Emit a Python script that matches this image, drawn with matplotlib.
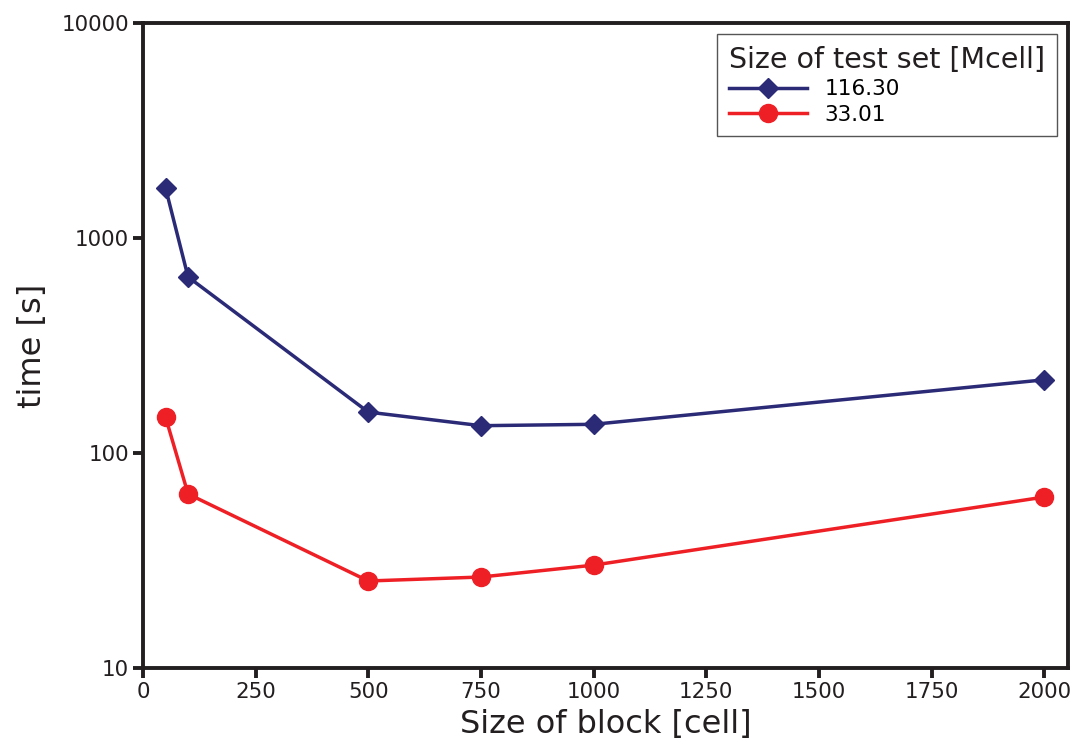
import matplotlib
matplotlib.use("Agg")
import matplotlib.pyplot as plt
from matplotlib.ticker import FixedLocator, NullLocator

# block sizes [cell]
block_size = [50, 100, 500, 750, 1000, 2000]
# run time [s] for each test set
time_116 = [1710, 659, 155, 134, 136, 219]
time_33 = [147, 64.5, 25.4, 26.5, 30.1, 62.4]

x_ticks = [0, 250, 500, 750, 1000, 1250, 1500, 1750, 2000]
y_ticks = [10, 100, 1000, 10000]

navy = "#2b2a77"
red = "#ee2026"
dark = "#231f20"

fig = plt.figure(figsize=(10.76, 7.49), dpi=100)
ax = fig.add_axes([0.1329, 0.1081, 0.8597, 0.8612])

ax.plot(block_size, time_116, color=navy, lw=2.5, marker="D", ms=10, label="116.30")
ax.plot(block_size, time_33, color=red, lw=2.5, marker="o", ms=13, label="33.01")

ax.set_yscale("log")
ax.set_xlim(0, 2053)
ax.set_ylim(10, 10000)
ax.xaxis.set_major_locator(FixedLocator(x_ticks))
ax.yaxis.set_major_locator(FixedLocator(y_ticks))
ax.yaxis.set_minor_locator(NullLocator())
ax.set_yticklabels([str(v) for v in y_ticks])

for s in ax.spines.values():
    s.set_linewidth(2.8)
    s.set_color(dark)
ax.tick_params(direction="out", length=7, width=2.8, colors=dark,
               labelsize=15.4, labelcolor=dark, pad=3)

ax.set_xlabel("Size of block [cell]", fontsize=23, color=dark, labelpad=5)
ax.set_ylabel("time [s]", fontsize=23, color=dark, labelpad=10)

leg = ax.legend(title="Size of test set [Mcell]", loc="upper right",
                fontsize=15.6, title_fontsize=20.5, fancybox=False,
                edgecolor="#555555", framealpha=1, borderaxespad=0.5,
                handlelength=3.6, labelspacing=0.25, borderpad=0.55,
                alignment="left")
leg.get_frame().set_linewidth(1)
leg.get_title().set_color(dark)

fig.savefig("out.png", dpi=100)
